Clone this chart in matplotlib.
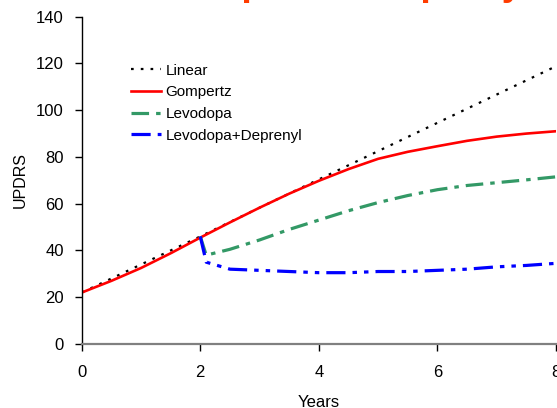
import matplotlib
matplotlib.use('Agg')
from matplotlib import pyplot as plt

plt.rcParams['font.family'] = ['Liberation Sans', 'DejaVu Sans']

title = 'Levodopa and Deprenyl'

years_lin = [0, 1, 2, 3, 4, 5, 6, 7, 8]
linear = [22, 34, 46, 58.3, 70.4, 82.5, 94.6, 106.7, 118.8]

years_gomp = [0, 0.5, 1, 1.5, 2, 2.5, 3, 3.5, 4, 4.5, 5, 5.5, 6, 6.5, 7, 7.5, 8]
gompertz = [22, 27, 32.5, 38.8, 45.5, 52, 58.3, 64.3, 69.8, 74.8, 79.2, 82.2,
            84.6, 86.9, 88.7, 90, 91]

years_drug = [2, 2.1, 2.5, 3, 3.5, 4, 4.5, 5, 5.5, 6, 6.5, 7, 7.5, 8]
levodopa = [46, 38, 40.5, 44.5, 49, 53, 57, 60.5, 63.5, 66, 67.8, 69, 70.2, 71.5]
deprenyl = [46, 35, 32, 31.5, 31, 30.5, 30.5, 31, 31, 31.5, 32, 33, 33.6, 34.5]

fig = plt.figure(figsize=(5.57, 4.08), dpi=100)
ax = fig.add_axes([0.1467, 0.1569, 0.8515, 0.8022])

ax.plot(years_lin, linear, color='black', lw=1.6, ls=(0, (1.2, 3.2)), label='Linear')
ax.plot(years_gomp, gompertz, color='#ff0000', lw=1.9, label='Gompertz')
ax.plot(years_drug, levodopa, color='#339966', lw=2.3, ls=(0, (5.5, 2.2, 1.4, 2.2)),
        label='Levodopa')
ax.plot(years_drug, deprenyl, color='#0000ff', lw=2.3,
        ls=(0, (6, 2.2, 1.4, 2.2, 1.4, 2.2)), label='Levodopa+Deprenyl')

ax.set_xlim(0, 8)
ax.set_ylim(0, 140)
ax.set_xticks([0, 2, 4, 6, 8])
ax.set_yticks(range(0, 141, 20))
ax.tick_params(labelsize=12, length=5, width=1, pad=8, colors='black')
ax.tick_params(axis='x', pad=10)
ax.spines['top'].set_visible(False)
ax.spines['right'].set_visible(False)
ax.spines['bottom'].set_color('#808080')
ax.spines['bottom'].set_linewidth(1.6)
ax.spines['left'].set_linewidth(1)

ax.set_xlabel('Years', fontsize=12, labelpad=11)
ax.set_ylabel('UPDRS', fontsize=11.5, labelpad=6)

ax.legend(loc='upper left', bbox_to_anchor=(0.09, 0.875), frameon=False,
          fontsize=11, handlelength=2, handletextpad=0.3, labelspacing=0.5,
          borderaxespad=0)

fig.text(0.193, 1.012, title, color='#ff3c00', fontsize=27, fontweight='bold',
         ha='left', va='baseline')

fig.savefig('out.png', dpi=100)
